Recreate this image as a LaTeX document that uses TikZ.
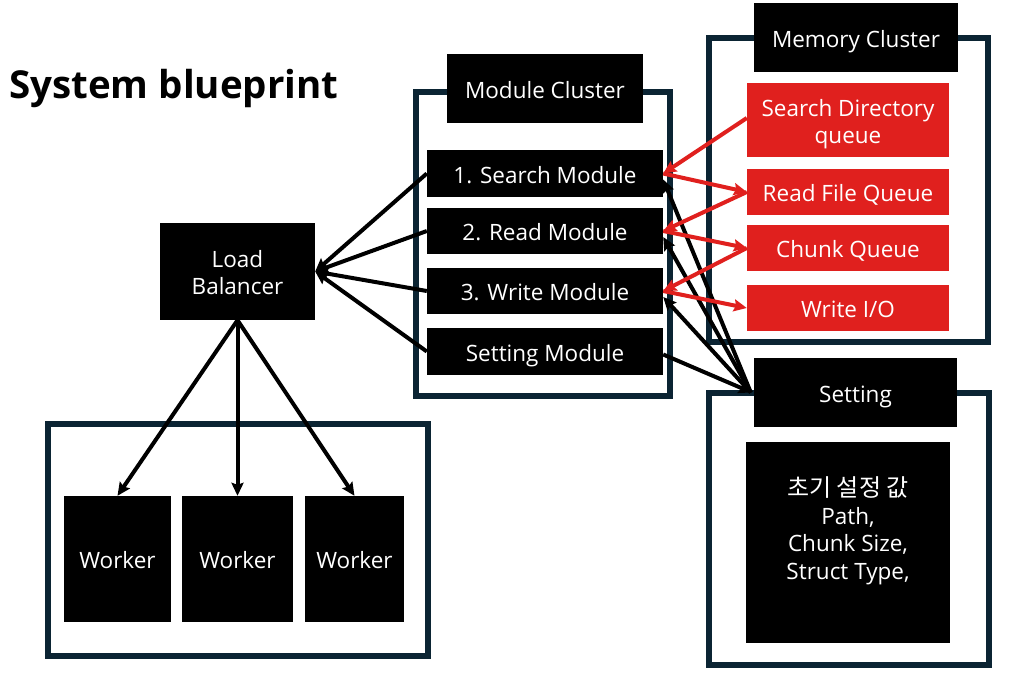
\documentclass[tikz,border=0pt]{standalone}
\usepackage{fontspec}
\setmainfont{Open Sans}
\newfontfamily\kr{Noto Sans CJK KR}
\usetikzlibrary{arrows.meta,calc}
\definecolor{framec}{HTML}{0B2433}
\definecolor{qred}{HTML}{E0201E}
\newcommand{\toprule}[1]{\rule{0pt}{#1}}
\newcommand{\botrule}[1]{\rule[-#1]{0pt}{0pt}}
\tikzset{
  blk/.style={draw=none,fill=black,text=white,inner sep=0pt,align=center,font=\fontsize{22.5}{27}\selectfont},
  one/.style={text height=19pt,text depth=0pt},
  qbox/.style={blk,fill=qred,minimum width=202pt},
  modbox/.style={blk,one,minimum width=236pt},
  txt/.style={text=white,inner sep=0pt,align=center,font=\fontsize{22.5}{27.5}\selectfont},
  framebox/.style={draw=framec,line width=6pt},
  conn/.style={line width=4pt,black},
  rconn/.style={line width=4pt,qred},
  tip/.style={-{Stealth[length=13pt,width=12pt,inset=2pt]}}
}
\begin{document}
\begin{tikzpicture}[x=1pt,y=-1pt]
\useasboundingbox (0,0) rectangle (1009,673);
\fill[white] (0,0) rectangle (1009,673);
% title
\node[inner sep=0pt,anchor=base west,font=\fontsize{38.5}{46}\bfseries\selectfont] (title) at (9,98) {System blueprint};
% frames
\draw[framebox] (416,92) rectangle (670,396);
\draw[framebox] (709,38) rectangle (988,342);
\draw[framebox] (709,393) rectangle (989,665);
\draw[framebox] (47.5,423.5) rectangle (428,655.5);
% cluster labels
\node[blk,one,minimum width=196pt,minimum height=69pt] (modc) at (545,88.5) {Module Cluster};
\node[blk,one,minimum width=204pt,minimum height=69pt] (memc) at (856,37.5) {Memory Cluster};
\node[blk,one,minimum width=203pt,minimum height=69pt] (setl) at (855.5,392.5) {Setting};
% modules
\node[modbox,minimum height=47pt] (m1) at (545,173.5) {1. Search Module};
\node[modbox,minimum height=46pt] (m2) at (545,231) {2. Read Module};
\node[modbox,minimum height=46pt] (m3) at (545,291) {3. Write Module};
\node[modbox,minimum height=47pt] (m4) at (545,351.5) {Setting Module};
% queues
\node[qbox,minimum height=74pt] (q1) at (848,120) {\toprule{25pt}Search Directory\\queue\botrule{1pt}};
\node[qbox,one,minimum height=46pt] (q2) at (848,192) {Read File Queue};
\node[qbox,one,minimum height=46pt] (q3) at (848,248) {Chunk Queue};
\node[qbox,one,minimum height=46pt] (q4) at (848,308) {Write I/O};
% load balancer and workers
\node[blk,minimum width=155pt,minimum height=97pt] (lb) at (237.5,271.5) {\toprule{19pt}Load\\Balancer\botrule{1pt}};
\node[blk,one,minimum width=107pt,minimum height=126pt] (w1) at (117.5,559) {Worker};
\node[blk,one,minimum width=111pt,minimum height=126pt] (w2) at (237.5,559) {Worker};
\node[blk,one,minimum width=99pt,minimum height=126pt] (w3) at (354.5,559) {Worker};
% setting content
\node[blk,minimum width=204pt,minimum height=201pt] (setc) at (848,542.5) {};
\node[txt] (setct) at (848,531) {\toprule{19pt}{\kr\fontsize{24}{27.5}\selectfont 초기 설정 값}\\Path,\\Chunk Size,\\Struct Type,\botrule{1pt}};
% black connectors
\draw[conn,tip] (m1.west) -- (lb.east);
\draw[conn,tip] (m2.west) -- (lb.east);
\draw[conn,tip] (m3.west) -- (lb.east);
\draw[conn,tip] (m4.west) -- (lb.east);
\draw[conn,tip] (lb.south) -- (w1.north);
\draw[conn,tip] (lb.south) -- (w2.north);
\draw[conn,tip] (lb.south) -- (w3.north);
\draw[conn,tip] ([xshift=-3pt]setl.west) -- ($(m1.east)+(0,6)$);
\draw[conn,tip] ([xshift=-3pt]setl.west) -- ($(m2.east)+(0,6)$);
\draw[conn,tip] ([xshift=-3pt]setl.west) -- ($(m3.east)+(0,6)$);
\draw[conn,tip] ($(m4.east)+(0,3)$) -- ([xshift=-2pt]setl.west);
% red connectors
\draw[rconn,tip] ($(q1.west)+(0,-2)$) -- (m1.east);
\draw[rconn,tip] (m1.east) -- (q2.west);
\draw[rconn,tip] (q2.west) -- (m2.east);
\draw[rconn,tip] (m2.east) -- (q3.west);
\draw[rconn,tip] (q3.west) -- (m3.east);
\draw[rconn,tip] (m3.east) -- (q4.west);
\end{tikzpicture}
\end{document}
